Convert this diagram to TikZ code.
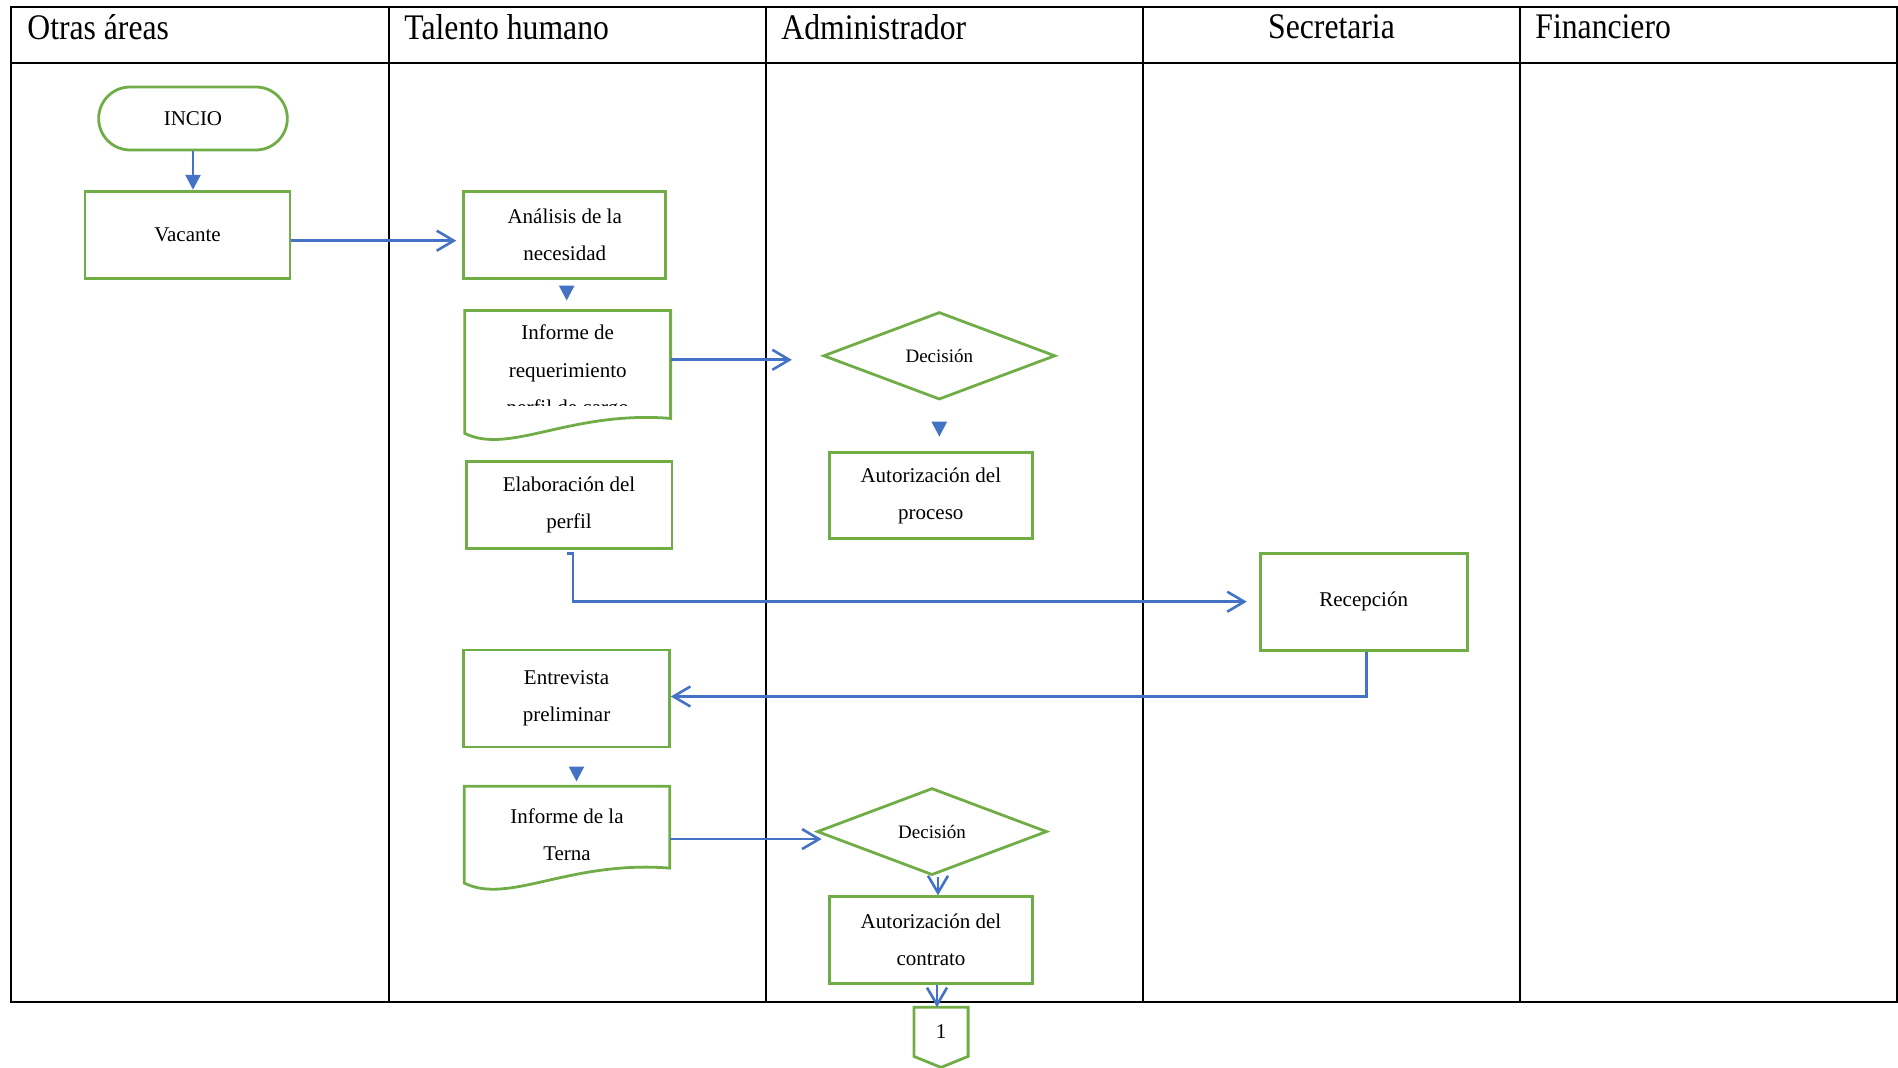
\documentclass[tikz,border=0pt]{standalone}
\usepackage{fontspec}
\setmainfont{Liberation Serif}
\newfontfamily\headfont[FakeStretch=0.88]{Liberation Serif}
\usetikzlibrary{arrows.meta,positioning,shapes.geometric,shapes.misc,calc}
\definecolor{leafgreen}{RGB}{112,173,71}
\definecolor{flowblue}{RGB}{68,114,196}
\tikzset{
  lanehead/.style={font=\headfont\fontsize{18}{20}\selectfont,inner sep=0pt},
  laneline/.style={line width=1.1pt,black},
  stepbox/.style={rectangle,draw=leafgreen,line width=1.4pt,align=center,
    font=\fontsize{10.5}{18.75}\selectfont,minimum width=102pt,minimum height=43.5pt,inner sep=0pt},
  startbox/.style={rounded rectangle,draw=leafgreen,line width=1.4pt,
    font=\fontsize{10.5}{12}\selectfont,minimum width=101pt,minimum height=31.5pt},
  decision/.style={diamond,draw=leafgreen,line width=1.4pt,inner sep=0pt,
    font=\fontsize{9.5}{11}\selectfont,minimum width=116pt,minimum height=43.75pt},
  docbox/.style={align=center,inner sep=0pt,font=\fontsize{10.5}{18.75}\selectfont,minimum width=102.5pt},
  greenline/.style={draw=leafgreen,line width=1.4pt},
  flow/.style={draw=flowblue,line width=1.3pt,-{Triangle[length=7.5pt,width=7.5pt]}},
  openflow/.style={draw=flowblue,line width=1.3pt,-{Straight Barb[length=8.5pt,width=10pt]}},
}
% wavy document outline around a named node
\newcommand{\docoutline}[1]{%
  \draw[greenline] (#1.north west) -- (#1.north east) -- ([shift={(0,-15)}]#1.south east)
    .. controls ([shift={(2,-23)}]#1.south) and ([shift={(-58,22)}]#1.south) .. (#1.south west) -- cycle;}

\begin{document}
\begin{tikzpicture}[x=0.5pt,y=-0.5pt]
  \useasboundingbox (0,0) rectangle (1898,1068);
  % swimlanes
  \draw[laneline] (11,7) rectangle (1897,1002);
  \draw[laneline] (11,63) -- (1897,63);
  \foreach \x in {389,766,1143,1520} \draw[laneline] (\x,7) -- (\x,1002);
  \node[lanehead,anchor=west] (hOtras) at (27,27) {Otras áreas};
  \node[lanehead,anchor=west] (hTalento) at (404,27) {Talento humano};
  \node[lanehead,anchor=west] (hAdmin) at (781,27) {Administrador};
  \node[lanehead] (hSecre) at (1331.5,27) {Secretaria};
  \node[lanehead,anchor=west] (hFinan) at (1535,27) {Financiero};

  % steps
  \node[startbox] (inicio) at (193,118.5) {INCIO};
  \node[stepbox,minimum width=102.5pt] (vacante) at (187.5,234.7) {Vacante};
  \node[stepbox,minimum width=101pt] (analisis) at (564.7,234.7) {Análisis de la\\necesidad};
  \node[docbox,minimum height=61pt] (informe) at (567.7,372) {Informe de\\requerimiento\\perfil de cargo};
  \fill[white] ([shift={(12,34)}]informe.west) rectangle ([shift={(-12,-6)}]informe.south east);
  \docoutline{informe}
  \node[decision] (decA) at (939.3,355.8) {Decisión};
  \node[stepbox,minimum width=101.7pt,minimum height=43pt] (autProceso) at (930.8,495.7) {Autorización del\\proceso};
  \node[stepbox,minimum width=102.9pt] (elaboracion) at (569,504.7) {Elaboración del\\perfil};
  \node[stepbox,minimum width=103.5pt,minimum height=48.5pt] (recepcion) at (1363.7,601.7) {Recepción};
  \node[stepbox,minimum width=102.9pt,minimum height=48.5pt] (entrevista) at (566.5,698.5) {Entrevista\\preliminar};
  \node[docbox,minimum width=102.3pt,minimum height=48pt] (terna) at (567,834.7) {Informe de la\\Terna};
  \docoutline{terna}
  \node[decision,minimum width=115pt,minimum height=43.5pt] (decB) at (932,831.6) {Decisión};
  \node[stepbox,minimum width=101.7pt,minimum height=43.3pt] (autContrato) at (931,940) {Autorización del\\contrato};
  \node[inner sep=0pt,minimum width=26.7pt,minimum height=24.2pt,font=\fontsize{10.5}{12}\selectfont] (conector) at (941,1031.8) {1};
  \draw[greenline] (conector.north west) -- (conector.north east) -- (conector.south east)
    -- ([shift={(0,11)}]conector.south) -- (conector.south west) -- cycle;

  % connectors
  \draw[flow] (inicio.south) -- (inicio.south |- vacante.north);
  \draw[openflow,shorten >=3pt] ([yshift=-3pt]vacante.east) -- ([yshift=-3pt]vacante.east -| analisis.west);
  \draw[flow,shorten <=4.8pt,shorten >=5pt] ([xshift=1pt]analisis.south) -- ([xshift=1pt]analisis.south |- informe.north);
  \draw[openflow,shorten >=15pt] ([yshift=-2pt]decA.west -| informe.east) -- ([yshift=-2pt]decA.west);
  \draw[flow,shorten <=12.2pt,shorten >=7.3pt] (decA.south) -- (decA.south |- autProceso.north);
  \draw[openflow,shorten >=6pt] ([shift={(-2,4)}]elaboracion.south) -- ++(6,0) |- (recepcion.west);
  \draw[openflow] ([xshift=1.5pt]recepcion.south) |- ([yshift=1pt]entrevista.east);
  \draw[flow,shorten <=10.2pt,shorten >=2.4pt] ([xshift=5pt]entrevista.south) -- ([xshift=5pt]entrevista.south |- terna.north);
  \draw[openflow,shorten >=-3pt] ([yshift=-2.2pt]terna.east) -- ([yshift=-2.2pt]terna.east -| decB.west);
  \draw[openflow] ([xshift=3pt]decB.south) -- ([xshift=3pt]decB.south |- autContrato.north);
  \draw[openflow] ([xshift=3pt]autContrato.south) -- ([xshift=3pt]autContrato.south |- conector.north);
\end{tikzpicture}
\end{document}
